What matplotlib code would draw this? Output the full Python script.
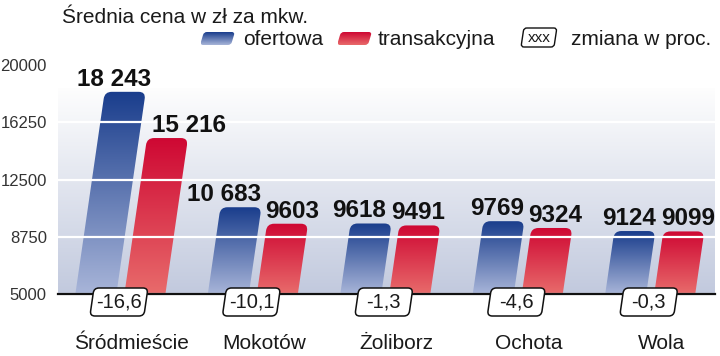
import numpy as np
import matplotlib
matplotlib.use('Agg')
import matplotlib.pyplot as plt
from matplotlib.path import Path
from matplotlib.patches import PathPatch
from matplotlib.transforms import IdentityTransform, ScaledTranslation

categories = ['Śródmieście', 'Mokotów', 'Żoliborz', 'Ochota', 'Wola']
ofertowa = [18243, 10683, 9618, 9769, 9124]
transakcyjna = [15216, 9603, 9491, 9324, 9099]
zmiana = ['-16,6', '-10,1', '-1,3', '-4,6', '-0,3']
yticks = [5000, 8750, 12500, 16250, 20000]

# small manual nudges of the value labels (pixels)
nudge_blue = [-11, -17, -12, -7, -6]
nudge_red = [21, 5, -2, 3, 4]

W, H = 720, 356
FONT = ['Liberation Sans', 'DejaVu Sans']
plt.rcParams['font.family'] = FONT
TXT = '#1a1a1a'

BLUE_TOP, BLUE_BOT = (0.10, 0.24, 0.55), (0.66, 0.71, 0.85)
RED_TOP, RED_BOT = (0.81, 0.03, 0.20), (0.91, 0.42, 0.42)
SLANT = 0.145

fig = plt.figure(figsize=(W / 100, H / 100), dpi=100)
ax = fig.add_axes([58 / W, (H - 294) / H, (715 - 58) / W, (294 - 65) / H])
ax.set_xlim(-0.46, 4.5)
ax.set_ylim(5000, 20000)

# overlay in pixel units for the legend
lax = fig.add_axes([0, 0, 1, 1], facecolor='none')
lax.set_xlim(0, W)
lax.set_ylim(0, H)
lax.axis('off')


def rounded(verts, radii):
    pts, codes = [], []
    n = len(verts)
    for i in range(n):
        p = np.array(verts[i], float)
        prev = np.array(verts[i - 1], float)
        nxt = np.array(verts[(i + 1) % n], float)
        r = radii[i]
        if r <= 0:
            pts.append(p)
            codes.append(Path.LINETO)
            continue
        a = p + (prev - p) / np.linalg.norm(prev - p) * r
        b = p + (nxt - p) / np.linalg.norm(nxt - p) * r
        pts += [a, p, b]
        codes += [Path.LINETO, Path.CURVE3, Path.CURVE3]
    codes[0] = Path.MOVETO
    pts.append(pts[0])
    codes.append(Path.CLOSEPOLY)
    return Path(pts, codes)


def slanted(x0, y0, w, h, slant, rt, rb):
    # x0, y0: bottom-left corner in display pixels
    s = h * slant
    verts = [(x0, y0), (x0 + w, y0), (x0 + w + s, y0 + h), (x0 + s, y0 + h)]
    return rounded(verts, [rb, rb, rt, rt])


def gradient_patch(path, top, bot, target_ax, z):
    patch = PathPatch(path, transform=IdentityTransform(), facecolor='none',
                      edgecolor='none', zorder=z)
    target_ax.add_patch(patch)
    bb = path.get_extents()
    inv = target_ax.transData.inverted()
    (x0, y0), (x1, y1) = inv.transform([(bb.x0, bb.y0), (bb.x1, bb.y1)])
    t = np.linspace(0, 1, 200)[:, None]
    arr = np.array(top)[None, None, :] * (1 - t[..., None]) + np.array(bot)[None, None, :] * t[..., None]
    im = target_ax.imshow(arr, extent=[x0, x1, min(y0, y1), max(y0, y1)],
                          origin='upper', aspect='auto', interpolation='bilinear', zorder=z)
    im.set_clip_path(patch)
    return patch


# background gradient of the plot area
bg = np.linspace(0, 1, 200)[:, None, None] * (np.array([0.76, 0.79, 0.87]) - 0.995) + 0.995
bg = np.repeat(bg, 2, axis=1)
ax.imshow(bg, extent=[-0.46, 4.5, 5000, 18490], origin='upper', aspect='auto',
          interpolation='bilinear', zorder=0)

x = np.arange(len(categories))
base_y = ax.transData.transform((0, 5000))[1]
bar_w = 41

for i in x:
    for vals, off, top, bot, nud in ((ofertowa, -0.174, BLUE_TOP, BLUE_BOT, nudge_blue),
                                     (transakcyjna, 0.196, RED_TOP, RED_BOT, nudge_red)):
        v = vals[i]
        cx, ty = ax.transData.transform((i + off, v))
        h = ty - base_y
        path = slanted(cx - bar_w / 2, base_y, bar_w, h, SLANT, 7, 0)
        gradient_patch(path, top, bot, ax, 1)
        lbl = f'{v:,}'.replace(',', ' ') if v >= 10000 else str(v)
        lx = cx + h * SLANT + nud[i]
        fig.text(lx / W, (ty + 6) / H, lbl, ha='center', va='baseline',
                 fontsize=17.5, fontweight='bold', color='#111111', zorder=5)

# change boxes
for i in x:
    cx, _ = ax.transData.transform((i, 5000))
    bw, bh = 54, 28
    cy = H - 302
    path = slanted(cx - bw / 2 - bh * SLANT / 2, cy - bh / 2, bw, bh, SLANT, 5, 5)
    ax.add_patch(PathPatch(path, transform=IdentityTransform(), facecolor='white',
                           edgecolor='#111111', lw=1.1, zorder=6, clip_on=False))
    fig.text(cx / W, cy / H, zmiana[i], ha='center', va='center', fontsize=14.5,
             color=TXT, zorder=7)

ax.set_axisbelow(False)
ax.grid(axis='y', color='white', lw=1.6)
ax.grid(axis='x', visible=False)
for s in ('top', 'right', 'left'):
    ax.spines[s].set_visible(False)
ax.spines['bottom'].set_color('#111111')
ax.spines['bottom'].set_linewidth(1.6)
ax.spines['bottom'].set_zorder(4)

ax.set_yticks(yticks)
ax.set_yticklabels([str(v) for v in yticks])
ax.tick_params(axis='y', length=0, pad=8, labelsize=12, labelcolor='#333333')
ax.set_xticks(x)
ax.set_xticklabels(categories)
ax.tick_params(axis='x', length=0, pad=29, labelsize=15, labelcolor=TXT)
for t in ax.get_xticklabels():
    t.set_transform(t.get_transform() + ScaledTranslation(9 / 72, 0, fig.dpi_scale_trans))

# title and legend
fig.text(62 / W, 1 - 23 / H, 'Średnia cena w zł za mkw.', fontsize=15, color=TXT,
         va='baseline')
leg_base = 1 - 45 / H
gradient_patch(slanted(200, H - 45, 31, 13, 0.3, 3, 3), BLUE_TOP, BLUE_BOT, lax, 2)
fig.text(243 / W, leg_base, 'ofertowa', fontsize=15, color=TXT, va='baseline')
gradient_patch(slanted(337, H - 45, 31, 13, 0.3, 3, 3), RED_TOP, RED_BOT, lax, 2)
fig.text(378 / W, leg_base, 'transakcyjna', fontsize=15, color=TXT, va='baseline')
box = slanted(521, H - 47, 33, 19, 0.15, 3, 3)
lax.add_patch(PathPatch(box, transform=IdentityTransform(), facecolor='white',
                        edgecolor='#111111', lw=1.0, zorder=2))
fig.text(539 / W, 1 - 38 / H, 'xxx', fontsize=11, color=TXT, ha='center', va='center')
fig.text(571 / W, leg_base, 'zmiana w proc.', fontsize=15, color=TXT, va='baseline')

ax.set_xlim(-0.46, 4.5)
ax.set_ylim(5000, 20000)
fig.savefig('out.png', dpi=100)
